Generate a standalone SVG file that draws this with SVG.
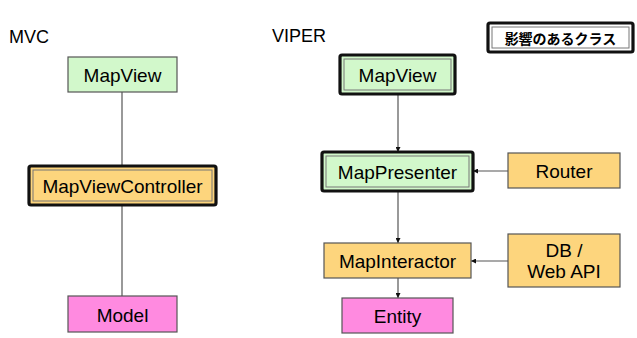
<svg xmlns="http://www.w3.org/2000/svg" width="637" height="338" viewBox="0 0 637 338">
  <style>
    .lbl { font-family: "Liberation Sans", Arial, sans-serif; font-size: 19px; fill: #000; text-anchor: middle; dominant-baseline: central; }
    .title { font-family: "Liberation Sans", Arial, sans-serif; font-size: 18px; fill: #000; }
    .box { stroke: #555; stroke-width: 1.2; }
    .outer { fill: none; stroke: #111; stroke-width: 3.2; }
    .inner { fill: none; stroke: #777; stroke-width: 1; }
    .green { fill: #d2f8cb; }
    .orange { fill: #fdd57d; }
    .pink { fill: #ff8ae0; }
    .wire { stroke: #555; stroke-width: 1.2; fill: none; }
    .legend { font-family: "Noto Sans CJK JP", "Liberation Sans", sans-serif; font-size: 14px; font-weight: bold; text-anchor: middle; dominant-baseline: central; }
  </style>
  <defs>
    <marker id="arrow" viewBox="0 0 10 10" refX="10" refY="5" markerWidth="5" markerHeight="5" orient="auto" markerUnits="userSpaceOnUse">
      <path d="M0,0 L10,5 L0,10 Z" fill="#111"/>
    </marker>
  </defs>

  <rect width="637" height="338" fill="#fff"/>

  <text class="title" x="9" y="43">MVC</text>
  <text class="title" x="272" y="42">VIPER</text>

  <!-- connectors -->
  <g id="connectors">
    <line class="wire" x1="122" y1="92" x2="122" y2="166"/>
    <line class="wire" x1="122" y1="205" x2="122" y2="296"/>
    <line class="wire" x1="398" y1="94" x2="398" y2="152" marker-end="url(#arrow)"/>
    <line class="wire" x1="508" y1="171" x2="473" y2="171" marker-end="url(#arrow)"/>
    <line class="wire" x1="398" y1="191" x2="398" y2="243" marker-end="url(#arrow)"/>
    <line class="wire" x1="508" y1="261" x2="471" y2="261" marker-end="url(#arrow)"/>
    <line class="wire" x1="398" y1="278" x2="398" y2="298" marker-end="url(#arrow)"/>
  </g>

  <!-- MVC nodes -->
  <g id="mvc-mapview">
    <rect class="box green" x="68" y="57" width="109" height="35"/>
    <text class="lbl" x="122.5" y="75">MapView</text>
  </g>
  <g id="mvc-controller">
    <rect class="orange" x="29" y="166" width="187" height="39" rx="2"/>
    <rect class="outer" x="29" y="166" width="187" height="39" rx="2"/>
    <rect class="inner" x="33" y="170" width="179" height="31"/>
    <text class="lbl" x="122.5" y="186">MapViewController</text>
  </g>
  <g id="mvc-model">
    <rect class="box pink" x="68" y="296" width="109" height="36"/>
    <text class="lbl" x="122.5" y="315">Model</text>
  </g>

  <!-- VIPER nodes -->
  <g id="viper-mapview">
    <rect class="green" x="340" y="55" width="115" height="39" rx="2"/>
    <rect class="outer" x="340" y="55" width="115" height="39" rx="2"/>
    <rect class="inner" x="344" y="59" width="107" height="31"/>
    <text class="lbl" x="397.5" y="75">MapView</text>
  </g>
  <g id="viper-presenter">
    <rect class="green" x="322" y="152" width="151" height="39" rx="2"/>
    <rect class="outer" x="322" y="152" width="151" height="39" rx="2"/>
    <rect class="inner" x="326" y="156" width="143" height="31"/>
    <text class="lbl" x="397.5" y="172">MapPresenter</text>
  </g>
  <g id="viper-router">
    <rect class="box orange" x="508" y="153" width="112" height="35"/>
    <text class="lbl" x="564" y="171">Router</text>
  </g>
  <g id="viper-interactor">
    <rect class="box orange" x="324" y="243" width="147" height="35"/>
    <text class="lbl" x="397.5" y="261">MapInteractor</text>
  </g>
  <g id="viper-datastore">
    <rect class="box orange" x="508" y="234" width="112" height="53"/>
    <text class="lbl" x="564" y="250">DB /</text>
    <text class="lbl" x="564" y="271">Web API</text>
  </g>
  <g id="viper-entity">
    <rect class="box pink" x="342" y="298" width="111" height="35"/>
    <text class="lbl" x="397.5" y="316">Entity</text>
  </g>

  <!-- legend -->
  <g id="legend">
    <rect x="488" y="23" width="145" height="29" rx="2" fill="#fff"/>
    <rect class="outer" x="488" y="23" width="145" height="29" rx="2"/>
    <rect class="inner" x="492" y="27" width="137" height="21"/>
    <text class="legend" x="560.5" y="37.5">影響のあるクラス</text>
  </g>
</svg>
